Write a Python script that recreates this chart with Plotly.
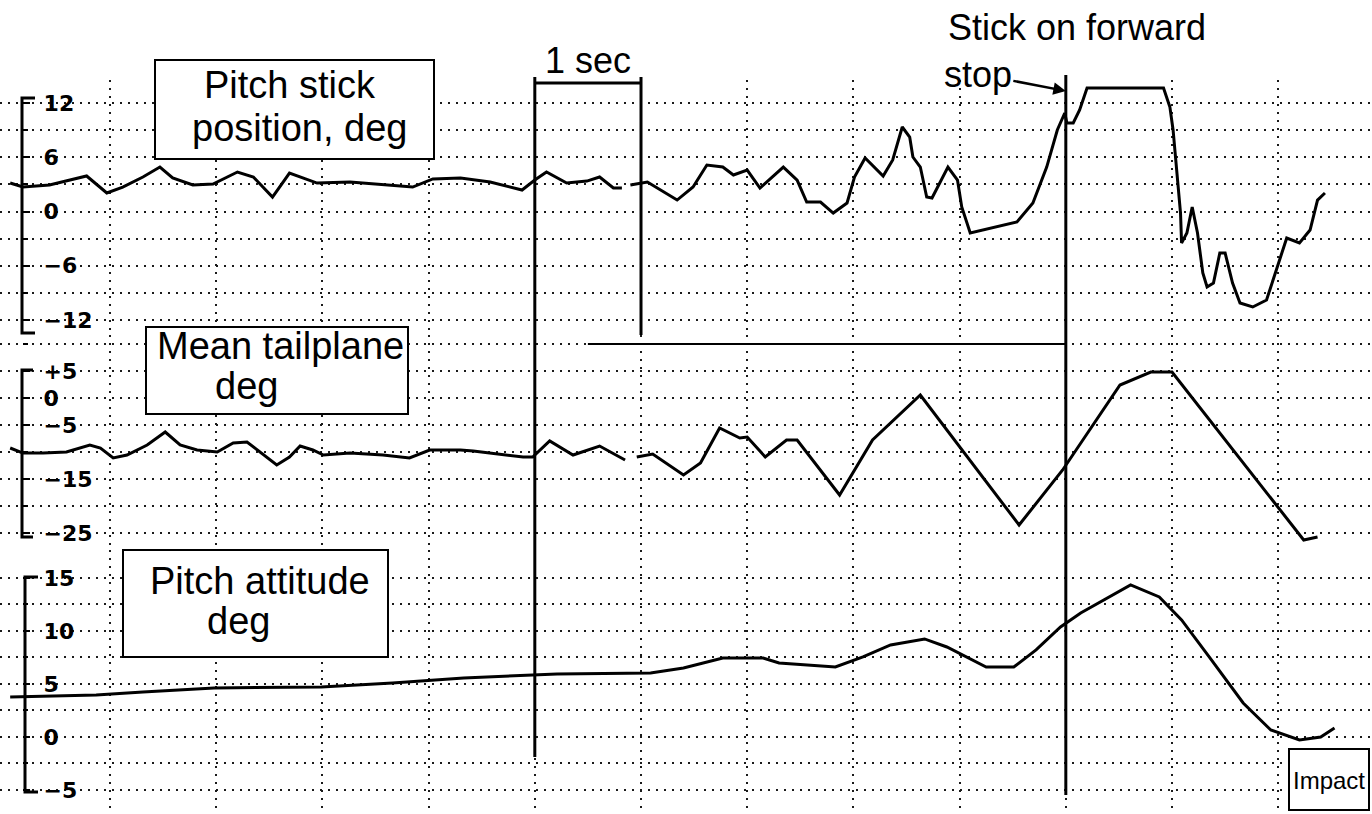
import plotly.graph_objects as go
from plotly.subplots import make_subplots

# ---------------- data (time in s, values in deg) ----------------
stick_t = [0.06, 0.18, 0.43, 0.78, 0.97, 1.12, 1.31, 1.47, 1.59, 1.78, 1.97, 2.20, 2.35, 2.53,
           2.69, 2.79, 2.95, 3.26, 3.57, 3.85, 4.04, 4.30, 4.58, 4.88, 5.00, 5.11, 5.30, 5.49,
           5.61, 5.74, 5.82, None, 5.90, 6.06, 6.34, 6.49, 6.62, 6.77, 6.87, 7.00, 7.12, 7.34,
           7.47, 7.56, 7.69, 7.81, 7.94, 8.01, 8.11, 8.28, 8.37, 8.46, 8.53, 8.56, 8.63, 8.69,
           8.74, 8.89, 8.98, 9.02, 9.10, 9.31, 9.54, 9.69, 9.82, 9.92, 9.99, 10.01, 10.07, 10.13,
           10.20, 10.92, 10.98, 11.01, 11.05, 11.08, 11.09, 11.14, 11.19, 11.24, 11.29, 11.33,
           11.39, 11.45, 11.50, 11.57, 11.64, 11.76, 11.89, 12.02, 12.08, 12.20, 12.30, 12.37, 12.44]
stick_deg = [3.15, 2.71, 2.93, 3.93, 2.05, 2.71, 3.82, 4.92, 3.71, 2.93, 3.04, 4.37, 3.82, 1.60,
             4.26, 3.82, 3.15, 3.26, 2.93, 2.71, 3.60, 3.71, 3.26, 2.38, 3.48, 4.37, 3.15, 3.37,
             3.82, 2.60, 2.60, None, 2.93, 3.26, 1.27, 2.71, 5.14, 4.92, 4.04, 4.59, 2.60, 4.92,
             3.48, 1.05, 1.05, -0.17, 0.94, 3.82, 5.92, 3.93, 5.70, 9.35, 8.24, 6.03, 4.92, 1.60,
             1.49, 4.92, 3.48, 0.50, -2.38, -1.83, -1.16, 0.94, 4.92, 9.02, 10.90, 9.80, 9.80, 11.23,
             13.66, 13.66, 11.56, 9.02, 3.82, -0.17, -3.48, -2.38, 0.50, -2.38, -6.80, -8.35,
             -7.91, -4.59, -4.59, -7.91, -10.12, -10.56, -9.79, -5.03, -2.93, -3.48, -2.05, 1.27, 2.05]

tail_t = [0.06, 0.18, 0.37, 0.59, 0.81, 0.91, 1.03, 1.16, 1.35, 1.52, 1.66, 1.82, 2.01, 2.16,
          2.29, 2.41, 2.57, 2.69, 2.79, 2.91, 3.01, 3.26, 3.57, 3.82, 4.01, 4.30, 4.42, 4.89,
          4.98, 5.14, 5.36, 5.61, 5.85, None, 5.96, 6.11, 6.40, 6.56, 6.74, 6.93, 7.00, 7.17,
          7.37, 7.47, 7.87, 8.18, 8.63, 9.56, 9.97, 10.51, 10.80, 11.00, 12.24, 12.37]
tail_deg = [-9.26, -10.19, -10.19, -10.0, -8.70, -9.26, -11.11, -10.56, -8.70, -6.30, -8.70,
            -9.63, -10.0, -8.33, -8.15, -10.0, -12.41, -10.93, -8.89, -9.63, -10.56, -10.19,
            -10.56, -11.11, -9.63, -9.63, -9.81, -10.93, -10.93, -7.96, -10.56, -8.89, -11.48,
            None, -10.93, -10.37, -14.26, -12.04, -5.56, -7.41, -7.22, -10.93, -7.78, -7.78,
            -17.96, -7.78, 0.56, -23.52, -13.33, 2.41, 4.81, 4.81, -26.30, -25.74]

pitch_t = [0.06, 0.87, 1.31, 1.98, 2.99, 3.66, 4.33, 4.97, 5.21, 6.09, 6.40, 6.77, 7.15, 7.30,
           7.83, 8.09, 8.35, 8.67, 8.88, 9.25, 9.51, 9.72, 9.95, 10.14, 10.61, 10.88, 11.09,
           11.35, 11.67, 11.93, 12.20, 12.40, 12.53]
pitch_deg = [3.77, 3.96, 4.25, 4.62, 4.72, 5.09, 5.57, 5.85, 5.94, 6.04, 6.51, 7.45, 7.45, 6.98,
             6.60, 7.55, 8.68, 9.25, 8.49, 6.60, 6.60, 8.21, 10.38, 11.70, 14.34, 13.21, 11.04,
             7.55, 3.21, 0.66, -0.28, 0.0, 0.85]

grid_seconds = [1, 2, 3, 4, 5, 6, 7, 8, 9, 10, 11, 12]
sec_bracket = [5, 6]
stop_time = 10.0
stop_window = [5.5, 10.0]

stick_ticks = [12, 6, 0, -6, -12]
stick_ticktext = ["12", "6", "0", "−6", "−12"]
stick_minor = [9, 3, -3, -9]
tail_ticks = [5, 0, -5, -15, -25]
tail_ticktext = ["+5", "0", "−5", "−15", "−25"]
tail_minor = [10, -10, -20]
pitch_ticks = [15, 10, 5, 0, -5]
pitch_ticktext = ["15", "10", "5", "0", "−5"]
pitch_minor = [12.5, 7.5, 2.5, -2.5]

# ---------------- layout helpers ----------------
W, H = 1372, 814


def py(p):
    return 1 - p / H


def px(p):
    return p / W


FONT = "Liberation Sans, Arial, sans-serif"
GRID = "#1a1a1a"
DASH = "2px,6px"

fig = make_subplots(rows=3, cols=1, shared_xaxes=True, vertical_spacing=0)
line_style = dict(color="black", width=3)
fig.add_trace(go.Scatter(x=stick_t, y=stick_deg, mode="lines", line=line_style,
                         connectgaps=False), row=1, col=1)
fig.add_trace(go.Scatter(x=tail_t, y=tail_deg, mode="lines", line=line_style,
                         connectgaps=False), row=2, col=1)
fig.add_trace(go.Scatter(x=pitch_t, y=pitch_deg, mode="lines", line=line_style), row=3, col=1)

xr = [-0.0358, 12.883]
panels = [
    ([py(335), py(80)], [-13.66, 14.55], stick_ticks, stick_ticktext, stick_minor),
    ([py(550), py(335)], [-28.15, 11.67], tail_ticks, tail_ticktext, tail_minor),
    ([py(810), py(550)], [-6.89, 17.64], pitch_ticks, pitch_ticktext, pitch_minor),
]
for i, (dom, rng, tv, tt, mn) in enumerate(panels, start=1):
    ya = "yaxis" if i == 1 else f"yaxis{i}"
    xa = "xaxis" if i == 1 else f"xaxis{i}"
    fig.layout[ya].update(
        domain=dom, range=rng, anchor="free", position=px(22),
        tickmode="array", tickvals=tv, ticktext=tt,
        ticks="inside", ticklen=7, tickwidth=2, tickcolor="black",
        ticklabelposition="inside", ticklabelstandoff=15,
        tickfont=dict(family="DejaVu Sans", size=22, color="black", weight="bold"),
        showgrid=True, gridcolor=GRID, gridwidth=2, griddash=DASH,
        zeroline=False, showline=False, fixedrange=True,
        minor=dict(tickmode="array", tickvals=mn, showgrid=True, gridcolor=GRID,
                   gridwidth=2, griddash=DASH, ticks="inside", ticklen=5,
                   tickcolor="black"),
    )
    fig.layout[xa].update(
        range=xr, domain=[0, 1], tickmode="array", tickvals=grid_seconds,
        showticklabels=False, ticks="", showgrid=True, gridcolor=GRID, gridwidth=2,
        griddash=DASH, zeroline=False, showline=False, fixedrange=True,
    )

shapes = []
# axis brackets
for xline, top, bot, hook in [(22, 98, 333, 13), (22, 370, 537, 11), (25, 577, 792, 13)]:
    shapes.append(dict(
        type="path", xref="paper", yref="paper",
        path=(f"M {px(xline + hook)} {py(top)} L {px(xline)} {py(top)} "
              f"L {px(xline)} {py(bot)} L {px(xline + hook)} {py(bot)}"),
        line=dict(color="black", width=3)))
# 1-second bracket and event lines
shapes.append(dict(type="line", xref="x", yref="paper", x0=sec_bracket[0], x1=sec_bracket[1],
                   y0=py(83), y1=py(83), line=dict(color="black", width=3)))
shapes.append(dict(type="line", xref="x", yref="paper", x0=sec_bracket[0], x1=sec_bracket[0],
                   y0=py(77), y1=py(757), line=dict(color="black", width=3)))
shapes.append(dict(type="line", xref="x", yref="paper", x0=sec_bracket[1], x1=sec_bracket[1],
                   y0=py(77), y1=py(335), line=dict(color="black", width=3)))
shapes.append(dict(type="line", xref="x", yref="paper", x0=stop_time, x1=stop_time,
                   y0=py(75), y1=py(795), line=dict(color="black", width=3)))
shapes.append(dict(type="line", xref="x2", yref="y2", x0=stop_window[0], x1=stop_window[1],
                   y0=10, y1=10, line=dict(color="black", width=2)))
# label boxes
for (l, t, r, b) in [(155, 60, 434, 159), (146, 327, 408, 414), (123, 550, 388, 657),
                     (1289, 749, 1369, 810)]:
    shapes.append(dict(type="rect", xref="paper", yref="paper", x0=px(l), x1=px(r),
                       y0=py(b), y1=py(t), line=dict(color="black", width=2),
                       fillcolor="white", layer="above"))
fig.update_layout(shapes=shapes)

ann = []


def label(text, x, y, size=38, xanchor="center"):
    ann.append(dict(text=text, xref="paper", yref="paper", x=px(x), y=py(y),
                    xanchor=xanchor, yanchor="middle", showarrow=False,
                    font=dict(family=FONT, size=size, color="black")))


label("Pitch stick", 290, 85)
label("position, deg", 300, 128)
label("Mean tailplane", 155, 346, xanchor="left")
label("deg", 213, 386, xanchor="left")
label("Pitch attitude", 148, 581, xanchor="left")
label("deg", 205, 621, xanchor="left")
label("1 sec", 588, 60, size=36)
label("Stick on forward", 1077, 28, size=36)
label("Impact", 1329, 780, size=24)
ann.append(dict(text="stop", xref="x", yref="paper", x=stop_time, y=py(91),
                ax=-88, ay=-17, showarrow=True, arrowhead=2, arrowsize=1, arrowwidth=2.5,
                arrowcolor="black", font=dict(family=FONT, size=36, color="black")))
fig.update_layout(annotations=ann)

fig.update_layout(
    width=W, height=H, margin=dict(l=0, r=0, t=0, b=0), showlegend=False,
    plot_bgcolor="white", paper_bgcolor="white",
)

fig.write_html("out.html", config={"displayModeBar": False},
               post_script="document.body.style.margin='0';")
